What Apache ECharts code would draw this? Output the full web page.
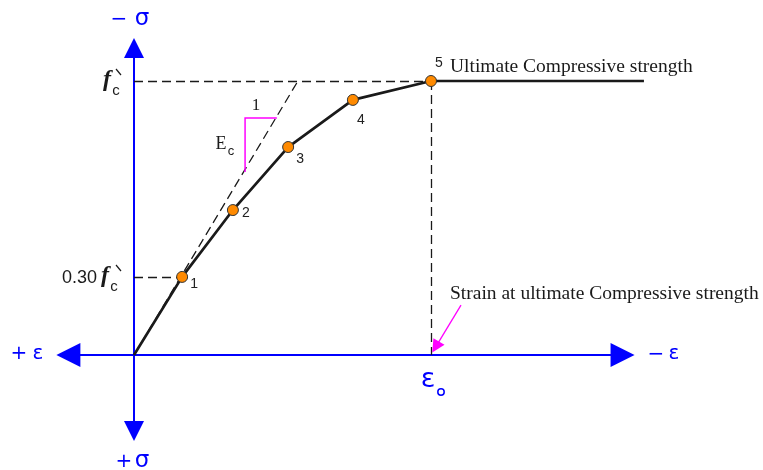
<!DOCTYPE html>
<html>
<head>
<meta charset="utf-8">
<script src="https://cdn.jsdelivr.net/npm/echarts@6/dist/echarts.min.js"></script>
<style>
  html, body { margin: 0; padding: 0; background: #fff; }
  #chart { width: 763px; height: 470px; }
</style>
</head>
<body>
<div id="chart"></div>
<script>
// strain is in units of eps_o, stress in units of f'c
const strain = [0, 0.162, 0.333, 0.519, 0.737, 1.0, 1.717]
const stress = [0, 0.285, 0.529, 0.759, 0.931, 1.0, 1.0]
const pointNames = ['', '1', '2', '3', '4', '5', '']

// initial tangent (Ec)
const tangentStrain = [0, 0.552]
const tangentStress = [0, 1]

// axis extents
const strainAxisEnds = [-0.221, 1.645]
const stressAxisEnds = [1.120, -0.277]

// slope triangle and pointer arrow
const slopeStrain = [0.374, 0.374, 0.481]
const slopeStress = [0.668, 0.865, 0.865]
const pointerStrain = [1.101, 1.0155]
const pointerStress = [0.182, 0.029]

const BLUE = '#0000ff'
const MAGENTA = '#ff00ff'
const INK = '#1a1a1a'

// slim triangle pointing up, kept at its aspect ratio inside the symbol box
const ARROW_HEAD = 'path://M6,0L12,22L0,22Z'
const POINTER_HEAD = 'path://M3.5,0L7,13L0,13Z'

const chart = echarts.init(document.getElementById('chart'))

const labelOffsets = [null, [12, 7], [13, 3], [12, 12], [8, 20], [8, -18], null]

const curveData = strain.map((x, i) => {
  const hasPoint = pointNames[i] !== ''
  return {
    value: [x, stress[i]],
    symbol: hasPoint ? 'circle' : 'none',
    label: hasPoint ? { show: true, position: 'inside', offset: labelOffsets[i], formatter: pointNames[i] } : { show: false }
  }
})

const peak = 5
const firstPt = 1

const option = {
  animation: false,
  grid: { left: 0.35, top: 12.5, width: 757.35, height: 452.1 },
  xAxis: { type: 'value', min: -0.45, max: 2.1, show: false },
  yAxis: { type: 'value', min: -0.4, max: 1.25, show: false },
  series: [
    {
      name: 'axes',
      type: 'lines',
      coordinateSystem: 'cartesian2d',
      symbol: [ARROW_HEAD, ARROW_HEAD],
      symbolKeepAspect: true,
      lineStyle: { color: BLUE, width: 2, opacity: 1 },
      itemStyle: { color: BLUE },
      data: [
        { coords: [[strainAxisEnds[0], 0], [strainAxisEnds[1], 0]], symbolSize: 24 },
        { coords: [[0, stressAxisEnds[0]], [0, stressAxisEnds[1]]], symbolSize: 20 }
      ],
      z: 1
    },
    {
      name: 'guides',
      type: 'lines',
      coordinateSystem: 'cartesian2d',
      symbol: ['none', 'none'],
      lineStyle: { color: INK, width: 1.3, type: [9, 5], opacity: 1 },
      data: [
        { coords: [[0, stress[peak]], [strain[peak], stress[peak]]] },
        { coords: [[strain[peak], stress[peak]], [strain[peak], 0]] },
        { coords: [[0, stress[firstPt]], [strain[firstPt], stress[firstPt]]] },
        { coords: [[tangentStrain[0], tangentStress[0]], [tangentStrain[1], tangentStress[1]]] }
      ],
      z: 2
    },
    {
      name: 'slope',
      type: 'lines',
      coordinateSystem: 'cartesian2d',
      polyline: true,
      symbol: ['none', 'none'],
      lineStyle: { color: MAGENTA, width: 1.5, opacity: 1 },
      data: [{ coords: slopeStrain.map((x, i) => [x, slopeStress[i]]) }],
      z: 2
    },
    {
      name: 'pointer',
      type: 'lines',
      coordinateSystem: 'cartesian2d',
      symbol: ['none', POINTER_HEAD],
      symbolKeepAspect: true,
      symbolSize: 13,
      lineStyle: { color: MAGENTA, width: 1.3, opacity: 1 },
      itemStyle: { color: MAGENTA },
      data: [{ coords: pointerStrain.map((x, i) => [x, pointerStress[i]]) }],
      z: 3
    },
    {
      name: 'stress-strain',
      type: 'line',
      data: curveData,
      symbolSize: 11,
      lineStyle: { color: INK, width: 2.7 },
      itemStyle: { color: '#ff8a00', borderColor: '#333', borderWidth: 1 },
      label: { color: '#222', fontFamily: 'Liberation Sans', fontSize: 14 },
      z: 4
    }
  ],
  graphic: [
    // axis titles
    { type: 'text', x: 119, y: 20, style: { text: '\u2212', font: '20px "DejaVu Sans"', fill: BLUE, align: 'center', verticalAlign: 'middle' } },
    { type: 'text', x: 142, y: 19, style: { text: '\u03c3', font: '23px "DejaVu Sans"', fill: BLUE, align: 'center', verticalAlign: 'middle' } },
    { type: 'text', x: 19, y: 354, style: { text: '+', font: '20px "DejaVu Sans"', fill: BLUE, align: 'center', verticalAlign: 'middle' } },
    { type: 'text', x: 38, y: 354, style: { text: '\u03b5', font: '20px "DejaVu Sans"', fill: BLUE, align: 'center', verticalAlign: 'middle' } },
    { type: 'text', x: 656, y: 355, style: { text: '\u2212', font: '20px "DejaVu Sans"', fill: BLUE, align: 'center', verticalAlign: 'middle' } },
    { type: 'text', x: 674, y: 354, style: { text: '\u03b5', font: '20px "DejaVu Sans"', fill: BLUE, align: 'center', verticalAlign: 'middle' } },
    { type: 'text', x: 124, y: 462, style: { text: '+', font: '20px "DejaVu Sans"', fill: BLUE, align: 'center', verticalAlign: 'middle' } },
    { type: 'text', x: 142, y: 461, style: { text: '\u03c3', font: '23px "DejaVu Sans"', fill: BLUE, align: 'center', verticalAlign: 'middle' } },
    // eps_o
    { type: 'text', x: 428, y: 380, style: { text: '\u03b5', font: '27px "DejaVu Sans"', fill: BLUE, align: 'center', verticalAlign: 'middle' } },
    { type: 'circle', shape: { cx: 441, cy: 392, r: 3.2 }, style: { fill: 'none', stroke: BLUE, lineWidth: 1.5 } },
    // f'c at peak
    { type: 'text', x: 107, y: 80, style: { text: 'f', font: 'italic bold 24px "Liberation Serif"', fill: INK, align: 'center', verticalAlign: 'middle' } },
    { type: 'text', x: 116, y: 91, style: { text: 'c', font: '15px "Liberation Sans"', fill: INK, align: 'center', verticalAlign: 'middle' } },
    { type: 'line', shape: { x1: 116, y1: 69, x2: 121, y2: 75 }, style: { stroke: INK, lineWidth: 1.2 } },
    // 0.30 f'c
    { type: 'text', x: 62, y: 278, style: { text: '0.30', font: '18px "Liberation Sans"', fill: INK, align: 'left', verticalAlign: 'middle' } },
    { type: 'text', x: 105, y: 276, style: { text: 'f', font: 'italic bold 24px "Liberation Serif"', fill: INK, align: 'center', verticalAlign: 'middle' } },
    { type: 'text', x: 114, y: 287, style: { text: 'c', font: '15px "Liberation Sans"', fill: INK, align: 'center', verticalAlign: 'middle' } },
    { type: 'line', shape: { x1: 116, y1: 265, x2: 121, y2: 271 }, style: { stroke: INK, lineWidth: 1.2 } },
    // slope triangle
    { type: 'text', x: 256, y: 106, style: { text: '1', font: '17px "Liberation Serif"', fill: INK, align: 'center', verticalAlign: 'middle' } },
    { type: 'text', x: 221, y: 144, style: { text: 'E', font: '18px "Liberation Serif"', fill: INK, align: 'center', verticalAlign: 'middle' } },
    { type: 'text', x: 231, y: 151, style: { text: 'c', font: '13px "Liberation Sans"', fill: INK, align: 'center', verticalAlign: 'middle' } },
    // notes
    { type: 'text', x: 450, y: 67, style: { text: 'Ultimate Compressive strength', font: '19.5px "Liberation Serif"', fill: INK, align: 'left', verticalAlign: 'middle' } },
    { type: 'text', x: 450, y: 294, style: { text: 'Strain at ultimate Compressive strength', font: '19.5px "Liberation Serif"', fill: INK, align: 'left', verticalAlign: 'middle' } }
  ]
}

chart.setOption(option)
</script>
</body>
</html>
